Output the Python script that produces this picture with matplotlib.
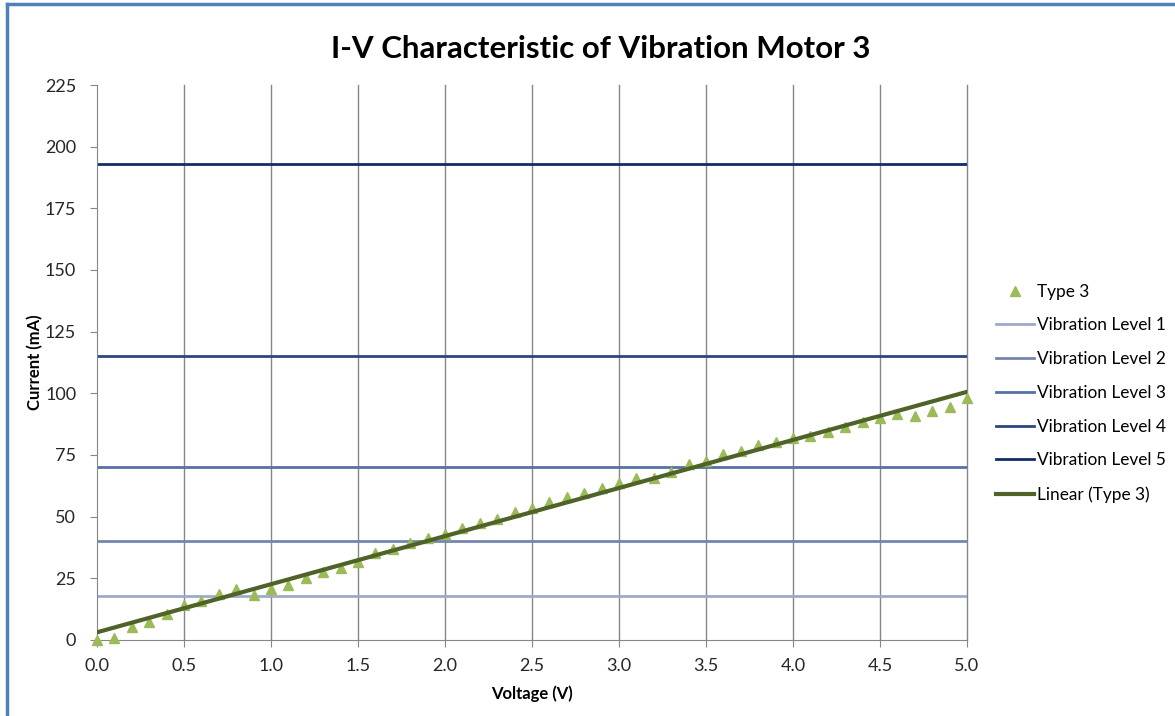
import numpy as np
import matplotlib
matplotlib.use("Agg")
import matplotlib.pyplot as plt
from matplotlib.lines import Line2D

# measured data, 0.0 V to 5.0 V in 0.1 V steps
voltage = [round(0.1 * i, 1) for i in range(51)]
current = [0, 1, 5.4, 7.4, 10.5, 14.2, 15.8, 18.6, 20.7, 18.4,
           20.7, 22.3, 25, 27.4, 29.1, 31.8, 35.1, 36.9, 39.2, 41.2,
           43, 45.3, 47.3, 48.9, 51.9, 53.6, 55.8, 57.8, 59.7, 61.5,
           63.5, 65.7, 65.6, 68.2, 71.2, 72.7, 75.3, 76.7, 79, 80.1,
           82, 82.8, 84.5, 86.5, 88.5, 89.8, 91.5, 90.8, 92.8, 94.6, 98]

levels = [18, 40, 70, 115, 193]
level_names = ["Vibration Level 1", "Vibration Level 2", "Vibration Level 3",
               "Vibration Level 4", "Vibration Level 5"]
level_colors = ["#9DABC9", "#7486AF", "#5571A6", "#2A4880", "#142C66"]

xticks = [0.0, 0.5, 1.0, 1.5, 2.0, 2.5, 3.0, 3.5, 4.0, 4.5, 5.0]
yticks = [0, 25, 50, 75, 100, 125, 150, 175, 200, 225]

plt.rcParams['font.family'] = ['Lato', 'DejaVu Sans']

fig = plt.figure(figsize=(11.75, 7.16), dpi=100)
ax = fig.add_axes([97 / 1175, 1 - 640 / 716, 870 / 1175, 555 / 716])

grey = "#868686"
for x in xticks[1:]:
    ax.axvline(x, color=grey, lw=1, zorder=0, clip_on=False)

ax.plot(voltage, current, linestyle="none", marker="^", color="#9BBB59",
        markersize=7, label="Type 3", zorder=3, clip_on=False)
for lev, name, col in zip(levels, level_names, level_colors):
    ax.plot([0, 5], [lev, lev], color=col, lw=2, label=name, zorder=2)

# linear trend line like Excel
slope, icpt = np.polyfit(voltage, current, 1)
xs = np.array([0, 5])
ax.plot(xs, slope * xs + icpt, color="#4F6228", lw=3, label="Linear (Type 3)", zorder=4)

ax.set_xlim(0, 5)
ax.set_ylim(0, 225)
ax.set_xticks(xticks)
ax.set_xticklabels([f"{v:.1f}" for v in xticks])
ax.set_yticks(yticks)
for s in ["top", "right"]:
    ax.spines[s].set_visible(False)
for s in ["left", "bottom"]:
    ax.spines[s].set_color(grey)
ax.tick_params(colors=grey, labelcolor="#262626", labelsize=13, length=5)
ax.tick_params(axis="y", pad=10)
ax.tick_params(axis="x", pad=8)

ax.set_xlabel("Voltage (V)", fontsize=12, fontweight="bold", labelpad=8)
ax.set_ylabel("Current (mA)", fontsize=12, fontweight="bold", labelpad=1)
fig.text(0.511, 0.932, "I-V Characteristic of Vibration Motor 3", ha="center",
         va="center", fontsize=22.5, fontweight="bold")

ax.legend(loc="upper left", bbox_to_anchor=(0.836, 0.623), bbox_transform=fig.transFigure,
          frameon=False, fontsize=12.4, handlelength=2.2, handletextpad=0.2,
          labelspacing=1.03, borderpad=0.3)

# chart frame
fig.add_artist(Line2D([0.006, 0.006], [0, 0.994], color="#4F81BD", lw=2.5))
fig.add_artist(Line2D([0.006, 1], [0.994, 0.994], color="#4F81BD", lw=2.5))

fig.savefig("out.png", dpi=100)
